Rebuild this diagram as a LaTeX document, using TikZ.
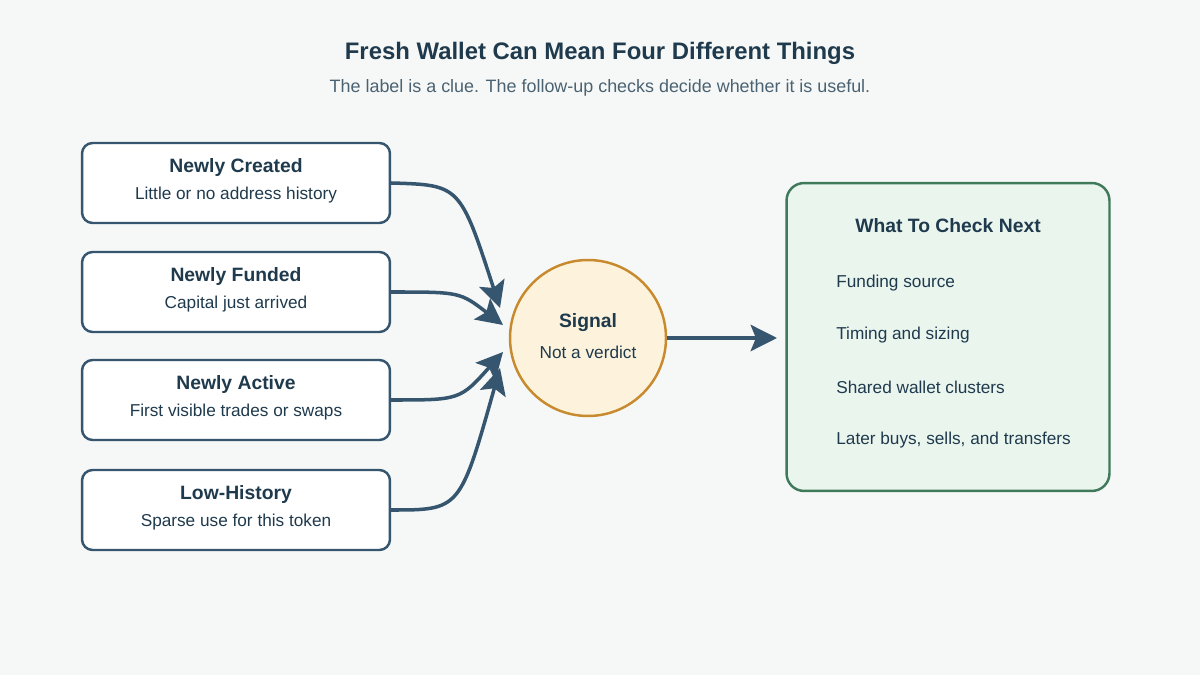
\documentclass[tikz,border=0pt]{standalone}
\usepackage{fontspec}
\setmainfont{Liberation Sans}
\usetikzlibrary{positioning, arrows.meta, calc}
\definecolor{ink}{HTML}{1F3A4D}
\definecolor{sub}{HTML}{4A6272}
\definecolor{flow}{HTML}{36566F}
\definecolor{bg}{HTML}{F6F8F7}
\definecolor{sigfill}{HTML}{FDF3DC}
\definecolor{sigline}{HTML}{C88A2E}
\definecolor{chkfill}{HTML}{EAF5EE}
\definecolor{chkline}{HTML}{3F7A5A}

\begin{document}
\begin{tikzpicture}[x=0.02cm, y=-0.02cm,
        >={Stealth[length=15pt, width=15pt, inset=3pt]},
        kind/.style={draw=flow, line width=1.4pt, fill=white, rounded corners=6pt,
          minimum width=6.16cm, minimum height=1.6cm},
        flowline/.style={->, draw=flow, line width=2pt},
        head/.style={font=\bfseries\fontsize{11}{13}\selectfont, text=ink},
        note/.style={font=\fontsize{9.8}{11}\selectfont, text=ink},
      ]
      \fill[bg] (0,0) rectangle (1200,675);

      % heading
      \node[font=\bfseries\fontsize{13.6}{16}\selectfont, text=ink] (title) at (600,53) {Fresh Wallet Can Mean Four Different Things};
      \node[font=\fontsize{10.2}{12}\selectfont, text=sub] (subtitle) at (600,88) {The label is a clue. The follow-up checks decide whether it is useful.};

      % the four readings of the label
      \foreach \y/\name/\head/\text in {
        183/created/Newly Created/Little or no address history,
        292/funded/Newly Funded/Capital just arrived,
        400/active/Newly Active/First visible trades or swaps,
        510/lowhist/Low-History/Sparse use for this token}
      {
        \node[kind] (\name) at (236,\y) {};
        \node[head] at (236,\y-15) {\head};
        \node[note] at (236,\y+12) {\text};
      }

      % signal in the middle
      \node[circle, draw=sigline, fill=sigfill, line width=1.4pt, minimum size=3.12cm] (signal) at (588,338) {};
      \node[head] at (588,323) {Signal};
      \node[note] at (588,352) {Not a verdict};

      % checks
      \node[draw=chkline, fill=chkfill, line width=1.4pt, rounded corners=10pt,
        minimum width=6.46cm, minimum height=6.16cm] (checks) at (948,337) {};
      \node[head] at (948,226) {What To Check Next};
      \foreach \y/\text in {283/Funding source, 335/Timing and sizing,
        387/Shared wallet clusters, 440/{Later buys, sells, and transfers}}
        \node[note, anchor=west, inner sep=0pt] at (836,\y) {\text};

      % connectors
      \draw[flowline] (created.east) .. controls (460,185) .. (500,308);
      \draw[flowline] (funded.east) .. controls (460,292) .. (503,325);
      \draw[flowline] (active.east) .. controls (460,400) .. (503,352);
      \draw[flowline] (lowhist.east) .. controls (460,510) .. (500,368);
      \draw[flowline] (signal.east) -- (777,338);
\end{tikzpicture}
\end{document}
